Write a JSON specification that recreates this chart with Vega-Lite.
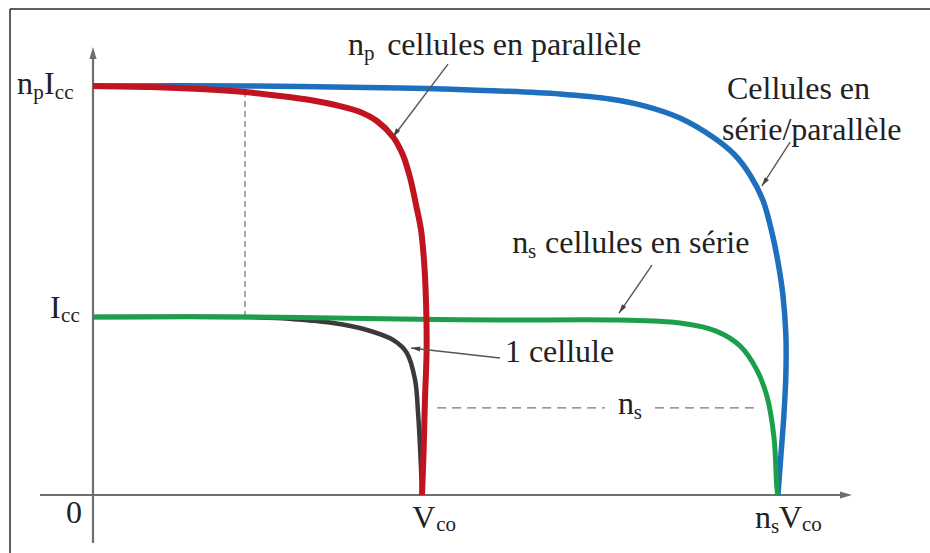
{
  "$schema": "https://vega.github.io/schema/vega-lite/v6.json",
  "width": 930,
  "height": 553,
  "autosize": "none",
  "padding": 0,
  "background": "white",
  "config": {"view": {"stroke": null}},
  "datasets": {
    "curves": [
      {"s": "red", "i": 0, "v": 0, "c": 2.298},
      {"s": "red", "i": 1, "v": 0.173, "c": 2.292},
      {"s": "red", "i": 2, "v": 0.325, "c": 2.281},
      {"s": "red", "i": 3, "v": 0.462, "c": 2.264},
      {"s": "red", "i": 4, "v": 0.568, "c": 2.242},
      {"s": "red", "i": 5, "v": 0.66, "c": 2.219},
      {"s": "red", "i": 6, "v": 0.751, "c": 2.185},
      {"s": "red", "i": 7, "v": 0.812, "c": 2.152},
      {"s": "red", "i": 8, "v": 0.863, "c": 2.101},
      {"s": "red", "i": 9, "v": 0.912, "c": 2.011},
      {"s": "red", "i": 10, "v": 0.942, "c": 1.91},
      {"s": "red", "i": 11, "v": 0.964, "c": 1.781},
      {"s": "red", "i": 12, "v": 0.982, "c": 1.629},
      {"s": "red", "i": 13, "v": 0.997, "c": 1.489},
      {"s": "red", "i": 14, "v": 1.006, "c": 1.32},
      {"s": "red", "i": 15, "v": 1.012, "c": 1.096},
      {"s": "red", "i": 16, "v": 1.014, "c": 0.815},
      {"s": "red", "i": 17, "v": 1.009, "c": 0.534},
      {"s": "red", "i": 18, "v": 1.005, "c": 0.253},
      {"s": "red", "i": 19, "v": 1.0, "c": 0},
      {"s": "blue", "i": 0, "v": 0, "c": 2.298},
      {"s": "blue", "i": 1, "v": 0.462, "c": 2.298},
      {"s": "blue", "i": 2, "v": 0.933, "c": 2.287},
      {"s": "blue", "i": 3, "v": 1.237, "c": 2.27},
      {"s": "blue", "i": 4, "v": 1.419, "c": 2.253},
      {"s": "blue", "i": 5, "v": 1.571, "c": 2.225},
      {"s": "blue", "i": 6, "v": 1.678, "c": 2.185},
      {"s": "blue", "i": 7, "v": 1.784, "c": 2.118},
      {"s": "blue", "i": 8, "v": 1.884, "c": 2.011},
      {"s": "blue", "i": 9, "v": 1.951, "c": 1.91},
      {"s": "blue", "i": 10, "v": 1.997, "c": 1.798},
      {"s": "blue", "i": 11, "v": 2.036, "c": 1.657},
      {"s": "blue", "i": 12, "v": 2.064, "c": 1.472},
      {"s": "blue", "i": 13, "v": 2.082, "c": 1.309},
      {"s": "blue", "i": 14, "v": 2.097, "c": 1.124},
      {"s": "blue", "i": 15, "v": 2.106, "c": 0.899},
      {"s": "blue", "i": 16, "v": 2.106, "c": 0.674},
      {"s": "blue", "i": 17, "v": 2.1, "c": 0.449},
      {"s": "blue", "i": 18, "v": 2.091, "c": 0.225},
      {"s": "blue", "i": 19, "v": 2.082, "c": 0},
      {"s": "green", "i": 0, "v": 0, "c": 1.0},
      {"s": "green", "i": 1, "v": 0.462, "c": 1.0},
      {"s": "green", "i": 2, "v": 0.933, "c": 0.989},
      {"s": "green", "i": 3, "v": 1.237, "c": 0.983},
      {"s": "green", "i": 4, "v": 1.596, "c": 0.983},
      {"s": "green", "i": 5, "v": 1.784, "c": 0.966},
      {"s": "green", "i": 6, "v": 1.894, "c": 0.921},
      {"s": "green", "i": 7, "v": 1.967, "c": 0.837},
      {"s": "green", "i": 8, "v": 2.018, "c": 0.702},
      {"s": "green", "i": 9, "v": 2.049, "c": 0.551},
      {"s": "green", "i": 10, "v": 2.07, "c": 0.32},
      {"s": "green", "i": 11, "v": 2.079, "c": 0.034},
      {"s": "green", "i": 12, "v": 2.082, "c": 0},
      {"s": "black", "i": 0, "v": 0, "c": 1.0},
      {"s": "black", "i": 1, "v": 0.462, "c": 1.0},
      {"s": "black", "i": 2, "v": 0.559, "c": 0.994},
      {"s": "black", "i": 3, "v": 0.729, "c": 0.966},
      {"s": "black", "i": 4, "v": 0.833, "c": 0.927},
      {"s": "black", "i": 5, "v": 0.912, "c": 0.871},
      {"s": "black", "i": 6, "v": 0.954, "c": 0.798},
      {"s": "black", "i": 7, "v": 0.979, "c": 0.646},
      {"s": "black", "i": 8, "v": 0.988, "c": 0.461},
      {"s": "black", "i": 9, "v": 0.994, "c": 0.27},
      {"s": "black", "i": 10, "v": 1.0, "c": 0.011},
      {"s": "black", "i": 11, "v": 1.0, "c": 0}
    ],
    "frame": [
      {"v": -0.2523, "c": 2.7303, "v2": -0.2523, "c2": -0.3258},
      {"v": -0.2523, "c": 2.7303, "v2": 2.5441, "c2": 2.7303}
    ],
    "axes": [
      {"v": 0, "c": -0.27, "v2": 0, "c2": 2.49},
      {"v": -0.161, "c": 0, "v2": 2.29, "c2": 0}
    ],
    "dashV": [
      {"v": 0.462, "c": 1.0, "v2": 0.462, "c2": 2.264}
    ],
    "dashH": [
      {"v": 1.046, "c": 0.489, "v2": 1.556, "c2": 0.489},
      {"v": 1.708, "c": 0.489, "v2": 2.012, "c2": 0.489}
    ],
    "pointers": [
      {"v": 1.079, "c": 2.421, "v2": 0.912, "c2": 2.011},
      {"v": 1.699, "c": 1.292, "v2": 1.599, "c2": 1.022},
      {"v": 2.119, "c": 1.983, "v2": 2.033, "c2": 1.736},
      {"v": 1.237, "c": 0.77, "v2": 0.967, "c2": 0.826}
    ],
    "tipsDL": [
      {"v": 0.912, "c": 2.011},
      {"v": 1.599, "c": 1.022},
      {"v": 2.033, "c": 1.736}
    ],
    "tipsL": [
      {"v": 0.967, "c": 0.826}
    ],
    "tipUp": [{"v": 0, "c": 2.517}],
    "tipRight": [{"v": 2.307, "c": 0}],
    "textBig": [
      {"v": 0.775, "c": 2.472, "t": "n"},
      {"v": 0.894, "c": 2.472, "t": "cellules en parallèle"},
      {"v": 1.274, "c": 1.36, "t": "n"},
      {"v": 1.374, "c": 1.36, "t": "cellules en série"},
      {"v": 1.252, "c": 0.747, "t": "1 cellule"},
      {"v": 1.927, "c": 2.225, "t": "Cellules en"},
      {"v": 1.912, "c": 1.994, "t": "série/parallèle"},
      {"v": -0.231, "c": 2.253, "t": "n"},
      {"v": -0.149, "c": 2.253, "t": "I"},
      {"v": -0.131, "c": 0.994, "t": "I"},
      {"v": -0.082, "c": -0.157, "t": "0"},
      {"v": 0.97, "c": -0.185, "t": "V"},
      {"v": 2.012, "c": -0.185, "t": "n"},
      {"v": 2.085, "c": -0.185, "t": "V"},
      {"v": 1.596, "c": 0.455, "t": "n"}
    ],
    "textSub": [
      {"v": 0.824, "c": 2.444, "t": "p"},
      {"v": 1.322, "c": 1.331, "t": "s"},
      {"v": -0.182, "c": 2.225, "t": "p"},
      {"v": -0.116, "c": 2.225, "t": "cc"},
      {"v": -0.097, "c": 0.972, "t": "cc"},
      {"v": 1.043, "c": -0.202, "t": "co"},
      {"v": 2.061, "c": -0.213, "t": "s"},
      {"v": 2.155, "c": -0.202, "t": "co"},
      {"v": 1.644, "c": 0.427, "t": "s"}
    ]
  },
  "encoding": {
    "x": {"field": "v", "type": "quantitative", "axis": null, "scale": {"domain": [-0.2827, 2.5441], "nice": false, "zero": false}},
    "y": {"field": "c", "type": "quantitative", "axis": null, "scale": {"domain": [-0.3258, 2.7809], "nice": false, "zero": false}}
  },
  "layer": [
    {
      "data": {"name": "frame"},
      "mark": {"type": "rule", "color": "#2a2a2a", "strokeWidth": 1.5},
      "encoding": {"x2": {"field": "v2"}, "y2": {"field": "c2"}}
    },
    {
      "data": {"name": "axes"},
      "mark": {"type": "rule", "color": "#6e6e6e", "strokeWidth": 2.2},
      "encoding": {"x2": {"field": "v2"}, "y2": {"field": "c2"}}
    },
    {
      "data": {"name": "tipUp"},
      "mark": {"type": "point", "shape": "M0,0L0.6,2L-0.6,2Z", "size": 144, "filled": true, "color": "#6e6e6e", "opacity": 1, "angle": 0}
    },
    {
      "data": {"name": "tipRight"},
      "mark": {"type": "point", "shape": "M0,0L0.6,2L-0.6,2Z", "size": 144, "filled": true, "color": "#6e6e6e", "opacity": 1, "angle": 90}
    },
    {
      "data": {"name": "dashV"},
      "mark": {"type": "rule", "color": "#777777", "strokeWidth": 1.3, "strokeDash": [6, 4]},
      "encoding": {"x2": {"field": "v2"}, "y2": {"field": "c2"}}
    },
    {
      "data": {"name": "dashH"},
      "mark": {"type": "rule", "color": "#777777", "strokeWidth": 1.3, "strokeDash": [9, 6]},
      "encoding": {"x2": {"field": "v2"}, "y2": {"field": "c2"}}
    },
    {
      "data": {"name": "curves"},
      "transform": [{"filter": "datum.s === 'blue'"}],
      "mark": {"type": "line", "color": "#1f6fbf", "strokeWidth": 5.5, "interpolate": "catmull-rom"},
      "encoding": {"order": {"field": "i", "type": "quantitative"}}
    },
    {
      "data": {"name": "curves"},
      "transform": [{"filter": "datum.s === 'black'"}],
      "mark": {"type": "line", "color": "#3a3a3a", "strokeWidth": 4.5, "interpolate": "catmull-rom"},
      "encoding": {"order": {"field": "i", "type": "quantitative"}}
    },
    {
      "data": {"name": "curves"},
      "transform": [{"filter": "datum.s === 'green'"}],
      "mark": {"type": "line", "color": "#1c9f4b", "strokeWidth": 5, "interpolate": "catmull-rom"},
      "encoding": {"order": {"field": "i", "type": "quantitative"}}
    },
    {
      "data": {"name": "curves"},
      "transform": [{"filter": "datum.s === 'red'"}],
      "mark": {"type": "line", "color": "#c1141f", "strokeWidth": 6, "interpolate": "catmull-rom"},
      "encoding": {"order": {"field": "i", "type": "quantitative"}}
    },
    {
      "data": {"name": "pointers"},
      "mark": {"type": "rule", "color": "#555555", "strokeWidth": 1.4},
      "encoding": {"x2": {"field": "v2"}, "y2": {"field": "c2"}}
    },
    {
      "data": {"name": "tipsDL"},
      "mark": {"type": "point", "shape": "M0,0L0.55,2L-0.55,2Z", "size": 81, "filled": true, "color": "#444444", "opacity": 1, "angle": 214}
    },
    {
      "data": {"name": "tipsL"},
      "mark": {"type": "point", "shape": "M0,0L0.55,2L-0.55,2Z", "size": 81, "filled": true, "color": "#444444", "opacity": 1, "angle": 276}
    },
    {
      "data": {"name": "textBig"},
      "mark": {"type": "text", "font": "Liberation Serif, Times New Roman, DejaVu Serif, serif", "fontSize": 32, "align": "left", "baseline": "alphabetic", "color": "#222222"},
      "encoding": {"text": {"field": "t", "type": "nominal"}}
    },
    {
      "data": {"name": "textSub"},
      "mark": {"type": "text", "font": "Liberation Serif, Times New Roman, DejaVu Serif, serif", "fontSize": 21, "align": "left", "baseline": "alphabetic", "color": "#222222"},
      "encoding": {"text": {"field": "t", "type": "nominal"}}
    }
  ]
}
